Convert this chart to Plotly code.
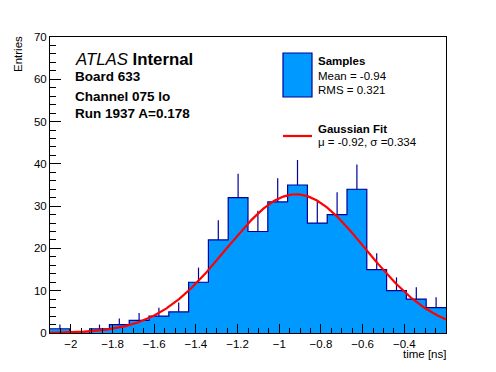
import numpy as np
import plotly.graph_objects as go

# ---- data ----
bin_lo = -2.1
bin_hi = -0.2
n_bins = 20
counts = [1, 0, 1, 2, 3, 4, 5, 12, 22, 32, 24, 31, 35, 26, 28, 34, 15, 10, 8, 6]
fit_mu = -0.92
fit_sigma = 0.334
fit_amp = 32.8
x_ticks = [-2, -1.8, -1.6, -1.4, -1.2, -1, -0.8, -0.6, -0.4]
y_ticks = [0, 10, 20, 30, 40, 50, 60, 70]

FILL = "#0099ff"
EDGE = "#000099"

edges = np.linspace(bin_lo, bin_hi, n_bins + 1)
width = edges[1] - edges[0]
centers = 0.5 * (edges[:-1] + edges[1:])
cnt = np.array(counts, dtype=float)
err = np.sqrt(cnt)

fig = go.Figure()
fig.add_trace(go.Bar(x=centers, y=cnt, width=width, marker=dict(color=FILL, line=dict(width=0)),
                     showlegend=False, hoverinfo="skip"))
step_x = list(edges)
step_y = list(cnt) + [cnt[-1]]
fig.add_trace(go.Scatter(x=step_x, y=step_y, mode="lines", line=dict(color=EDGE, width=1.2, shape="hv"),
                         showlegend=False, hoverinfo="skip"))
fig.add_trace(go.Scatter(x=centers, y=cnt, mode="markers", marker=dict(size=0.1, color=EDGE, opacity=0),
                         error_y=dict(type="data", array=err, arrayminus=[0] * len(err), color=EDGE,
                                      thickness=1.2, width=0),
                         showlegend=False, hoverinfo="skip"))
xf = np.linspace(bin_lo, bin_hi, 400)
yf = fit_amp * np.exp(-0.5 * ((xf - fit_mu) / fit_sigma) ** 2)
fig.add_trace(go.Scatter(x=xf, y=yf, mode="lines", line=dict(color="#ff0000", width=2.2),
                         showlegend=False, hoverinfo="skip"))

L, R, T, B = 50, 446, 37, 333
W, H = 496, 372
def px(x):
    return (x - L) / (R - L)
def py(y):
    return (B - y) / (B - T)

FONT = "Liberation Sans, Arial, sans-serif"
ann = []
def txt(x, y, s, size, bold=False, xanchor="left", yanchor="middle", angle=0):
    ann.append(dict(x=px(x), y=py(y), xref="paper", yref="paper", text=(f"<b>{s}</b>" if bold else s),
                    showarrow=False, xanchor=xanchor, yanchor=yanchor, textangle=angle,
                    font=dict(family=FONT, size=size, color="black")))

txt(73, 59, "<i>ATLAS</i> <b>Internal</b>", 16.8)
txt(73, 77, "Board 633", 13.5, bold=True)
txt(73, 96, "Channel 075 lo", 13.5, bold=True)
txt(73, 114, "Run 1937 A=0.178", 13.5, bold=True)
txt(316, 61, "Samples", 11.5, bold=True)
txt(316, 76, "Mean = -0.94", 11.5)
txt(316, 90, "RMS = 0.321", 11.5)
txt(316, 129, "Gaussian Fit", 11.5, bold=True)
txt(316, 142, "\u03bc = -0.92, \u03c3 =0.334", 11.5)
txt(448, 354, "time [ns]", 11.5, xanchor="right")
txt(18, 34, "Entries", 11.5, xanchor="center", yanchor="top", angle=-90)

shapes = [
    dict(type="rect", xref="paper", yref="paper", x0=px(283), x1=px(312), y0=py(97), y1=py(53),
         fillcolor=FILL, line=dict(color=EDGE, width=1.2)),
    dict(type="line", xref="paper", yref="paper", x0=px(283), x1=px(312), y0=py(136), y1=py(136),
         line=dict(color="#ff0000", width=2.2)),
]

fig.update_layout(
    width=W, height=H,
    margin=dict(l=L, r=W - R, t=T, b=H - B),
    paper_bgcolor="white", plot_bgcolor="white",
    bargap=0, showlegend=False,
    annotations=ann, shapes=shapes,
    font=dict(family=FONT, size=11, color="black"),
    xaxis=dict(range=[bin_lo, bin_hi], tickvals=x_ticks, ticktext=[f"{v:g}".replace("-", "\u2212") for v in x_ticks],
               ticks="inside", ticklen=9, tickcolor="black", tickwidth=1,
               minor=dict(dtick=0.05, ticks="inside", ticklen=5, tickcolor="black", tick0=0, showgrid=False),
               showline=True, linecolor="black", linewidth=1, mirror=True, showgrid=False, zeroline=False,
               tickfont=dict(family=FONT, size=11.5)),
    yaxis=dict(range=[0, 70], tickvals=y_ticks, ticks="inside", ticklen=11, tickcolor="black", tickwidth=1,
               minor=dict(dtick=2, ticks="inside", ticklen=5.5, tickcolor="black", showgrid=False),
               showline=True, linecolor="black", linewidth=1, mirror=True, showgrid=False, zeroline=False,
               tickfont=dict(family=FONT, size=11.5)),
)

fig.write_html("out.html", config={"displayModeBar": False, "staticPlot": True},
               post_script="document.body.style.margin='0px';document.body.style.overflow='hidden';")
